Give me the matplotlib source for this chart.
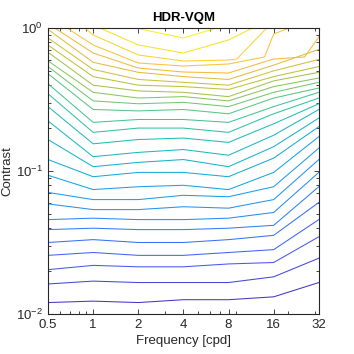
import numpy as np
import matplotlib
matplotlib.use("Agg")
import matplotlib.pyplot as plt
from matplotlib.colors import LinearSegmentedColormap
from matplotlib.ticker import FixedLocator, NullFormatter, LogLocator

plt.rcParams['font.family'] = ['Liberation Sans', 'DejaVu Sans']

# frequency nodes (cpd) shared by the lower contours
FREQ = [0.5, 1, 2, 4, 8, 16, 32]

# log10(contrast) of each contour line at the frequency nodes, bottom to top
LOG_C = [
    [-1.92, -1.91, -1.92, -1.90, -1.90, -1.88, -1.78],
    [-1.79, -1.77, -1.78, -1.78, -1.78, -1.74, -1.61],
    [-1.69, -1.66, -1.67, -1.67, -1.65, -1.64, -1.46],
    [-1.59, -1.57, -1.59, -1.59, -1.57, -1.55, -1.34],
    [-1.50, -1.48, -1.50, -1.50, -1.48, -1.45, -1.22],
    [-1.41, -1.40, -1.41, -1.41, -1.40, -1.38, -1.11],
    [-1.34, -1.33, -1.34, -1.34, -1.33, -1.29, -1.01],
    [-1.23, -1.27, -1.27, -1.25, -1.26, -1.20, -0.92],
    [-1.15, -1.20, -1.20, -1.17, -1.18, -1.11, -0.84],
    [-1.03, -1.13, -1.11, -1.10, -1.13, -1.01, -0.76],
    [-0.92, -1.04, -1.01, -1.01, -1.04, -0.91, -0.69],
    [-0.78, -0.97, -0.94, -0.92, -0.97, -0.83, -0.63],
    [-0.65, -0.90, -0.87, -0.85, -0.89, -0.75, -0.57],
    [-0.55, -0.81, -0.78, -0.77, -0.80, -0.67, -0.53],
    [-0.46, -0.73, -0.70, -0.70, -0.73, -0.60, -0.49],
    [-0.39, -0.66, -0.64, -0.64, -0.66, -0.55, -0.45],
    [-0.32, -0.57, -0.58, -0.57, -0.60, -0.49, -0.42],
    [-0.27, -0.51, -0.53, -0.52, -0.55, -0.45, -0.38],
    [-0.23, -0.45, -0.49, -0.48, -0.51, -0.41, -0.35],
    [-0.17, -0.40, -0.44, -0.45, -0.48, -0.37, -0.31],
    [-0.12, -0.34, -0.40, -0.41, -0.43, -0.34, -0.27],
    [-0.07, -0.29, -0.36, -0.38, -0.40, -0.30, -0.22],
    [-0.01, -0.24, -0.31, -0.34, -0.36, -0.26, -0.15],
]

# upper contours leave the top of the plot, so they keep their own vertices
TOP_F = [
    [0.554, 1, 2, 4, 8, 16, 25.7, 32],
    [0.669, 1, 2, 4, 8, 13.9, 16, 20.4],
    [0.882, 1, 2, 4, 8, 9.08, 14.4],
    [1.11, 2, 4, 8, 11.6],
    [1.90, 4, 6.67],
]
TOP_LOG_C = [
    [0.0, -0.175, -0.28, -0.308, -0.315, -0.217, -0.203, -0.063],
    [0.0, -0.119, -0.245, -0.266, -0.252, -0.203, -0.042, 0.0],
    [0.0, -0.049, -0.189, -0.231, -0.224, -0.217, 0.0],
    [0.0, -0.119, -0.175, -0.084, 0.0],
    [0.0, -0.07, 0.0],
]

XTICKS = [0.5, 1, 2, 4, 8, 16, 32]
XTICKLABELS = ['0.5', '1', '2', '4', '8', '16', '32']

# approximate MATLAB parula
parula = LinearSegmentedColormap.from_list('parula', [
    (0.00, (0.2422, 0.1504, 0.6603)),
    (0.12, (0.2780, 0.3556, 0.9777)),
    (0.25, (0.1540, 0.5500, 0.9650)),
    (0.38, (0.0700, 0.6700, 0.8700)),
    (0.50, (0.1300, 0.7500, 0.7000)),
    (0.62, (0.4000, 0.7900, 0.4600)),
    (0.74, (0.7400, 0.7600, 0.2400)),
    (0.86, (0.9900, 0.7300, 0.2400)),
    (1.00, (0.9769, 0.9839, 0.0805)),
])

lines = [(FREQ, c) for c in LOG_C] + list(zip(TOP_F, TOP_LOG_C))
n = len(lines)

fig = plt.figure(figsize=(3.54, 3.54), dpi=100)
ax = fig.add_axes([0.1356, 0.113, 0.765, 0.808])

for k, (f, lc) in enumerate(lines):
    ax.plot(f, 10 ** np.array(lc), color=parula(0.04 + 0.94 * k / (n - 1)), lw=0.75)

ax.set_xscale('log')
ax.set_yscale('log')
ax.set_xlim(0.5, 32)
ax.set_ylim(0.01, 1)
ax.xaxis.set_major_locator(FixedLocator(XTICKS))
ax.set_xticklabels(XTICKLABELS)
ax.xaxis.set_minor_locator(LogLocator(base=10, subs=np.arange(2, 10)))
ax.xaxis.set_minor_formatter(NullFormatter())

ink = (0.15, 0.15, 0.15)
for s in ax.spines.values():
    s.set_color(ink)
    s.set_linewidth(0.8)
ax.tick_params(which='both', direction='in', top=True, right=True, colors=ink,
               labelsize=9.5, width=0.6)
ax.tick_params(which='major', length=3.5)
ax.tick_params(which='minor', length=2)

ax.set_xlabel('Frequency [cpd]', fontsize=9.5, color=ink, labelpad=3)
ax.set_ylabel('Contrast', fontsize=9.5, color=ink, labelpad=2)
ax.set_title('HDR-VQM', fontsize=9.5, fontweight='bold', pad=5)

fig.savefig('out.png', dpi=100)
